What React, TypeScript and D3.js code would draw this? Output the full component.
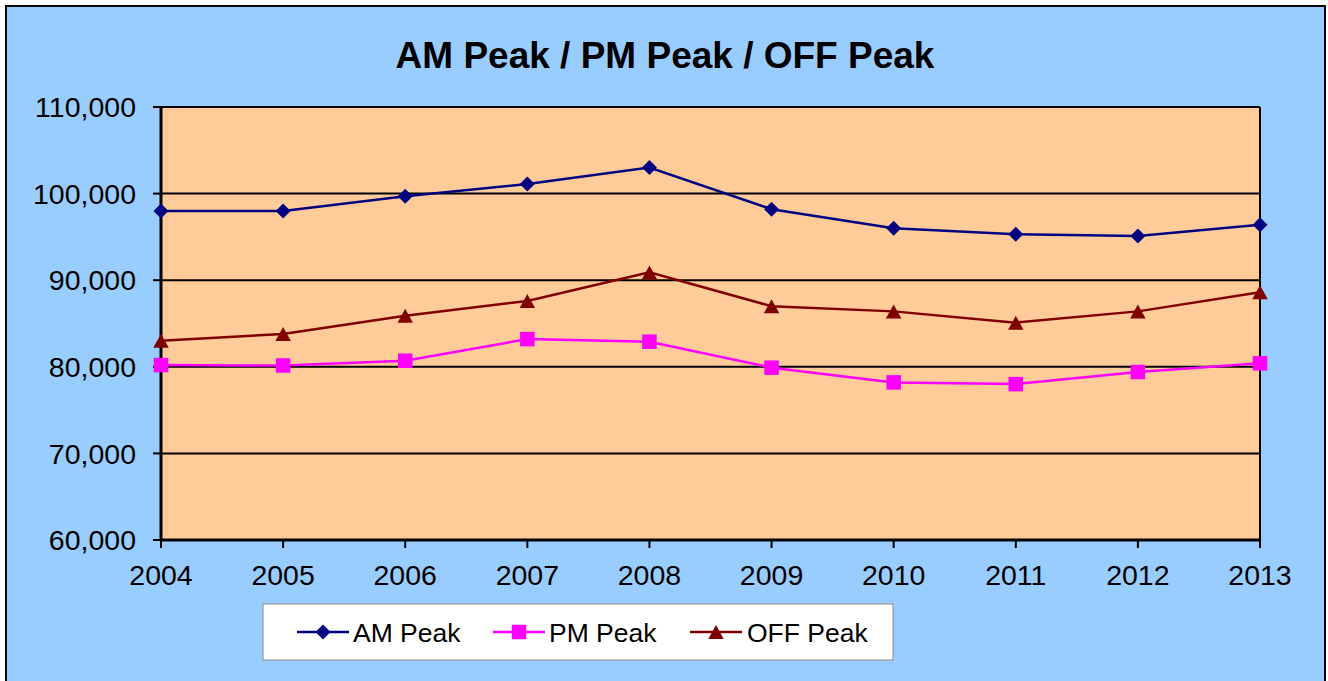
import React from "react";
import * as d3 from "d3";

const years = ["2004", "2005", "2006", "2007", "2008", "2009", "2010", "2011", "2012", "2013"];
const amPeak = [98000, 98000, 99700, 101100, 103000, 98200, 96000, 95300, 95100, 96400];
const pmPeak = [80200, 80150, 80700, 83200, 82900, 79900, 78200, 78000, 79400, 80400];
const offPeak = [83000, 83800, 85900, 87600, 90900, 87000, 86400, 85100, 86400, 88600];
const yTicks = [60000, 70000, 80000, 90000, 100000, 110000];
const seriesNames = ["AM Peak", "PM Peak", "OFF Peak"];

const W = 1328;
const H = 681;
const plot = { left: 161, right: 1260, top: 107, bottom: 540 };

const series = [
  { name: seriesNames[0], values: amPeak, color: "#000080", marker: "diamond" },
  { name: seriesNames[1], values: pmPeak, color: "#FF00FF", marker: "square" },
  { name: seriesNames[2], values: offPeak, color: "#800000", marker: "triangle" },
];

function Marker({ type, x, y, color }: { type: string; x: number; y: number; color: string }) {
  if (type === "diamond") {
    const r = 7.5;
    return <path d={`M${x},${y - r}L${x + r},${y}L${x},${y + r}L${x - r},${y}Z`} fill={color} />;
  }
  if (type === "square") {
    const s = 14.5;
    return <rect x={x - s / 2} y={y - s / 2} width={s} height={s} fill={color} />;
  }
  const h = 14;
  const w = 15.5;
  return <path d={`M${x},${y - h / 2}L${x + w / 2},${y + h / 2}L${x - w / 2},${y + h / 2}Z`} fill={color} />;
}

export default function App() {
  const x = d3.scalePoint<string>().domain(years).range([plot.left, plot.right]);
  const y = d3.scaleLinear().domain([60000, 110000]).range([plot.bottom, plot.top]);
  const fmt = d3.format(",");
  const line = d3
    .line<number>()
    .x((_, i) => x(years[i]) as number)
    .y((d) => y(d));

  const legendItems = [
    { lx: 297, tx: 353 },
    { lx: 493, tx: 549 },
    { lx: 690, tx: 747 },
  ];
  const legendY = 632;

  return (
    <svg
      width={W}
      height={H}
      style={{ position: "absolute", left: 0, top: 0, fontFamily: "Arial, 'Liberation Sans', sans-serif" }}
    >
      <rect x={0} y={0} width={W} height={H} fill="#FFFFFF" />
      <rect x={6} y={6} width={1319} height={700} fill="#99CCFF" stroke="#000" strokeWidth={2} />
      <text x={665} y={68} textAnchor="middle" fontSize={37} fontWeight="bold" fill="#000">
        AM Peak / PM Peak / OFF Peak
      </text>
      <rect
        x={plot.left}
        y={plot.top}
        width={plot.right - plot.left}
        height={plot.bottom - plot.top}
        fill="#FFCC99"
      />
      {yTicks.map((t) => (
        <g key={t}>
          <line x1={plot.left} x2={plot.right} y1={y(t)} y2={y(t)} stroke="#000" strokeWidth={2} />
          <line x1={plot.left - 8} x2={plot.left} y1={y(t)} y2={y(t)} stroke="#000" strokeWidth={2} />
          <text x={136} y={y(t)} dy="0.36em" textAnchor="end" fontSize={28.5} fill="#000">
            {fmt(t)}
          </text>
        </g>
      ))}
      <line x1={plot.right} x2={plot.right} y1={plot.top} y2={plot.bottom} stroke="#000" strokeWidth={2} />
      <line x1={plot.left} x2={plot.left} y1={plot.top - 1} y2={plot.bottom + 1} stroke="#000" strokeWidth={3} />
      <line x1={plot.left} x2={plot.right} y1={plot.bottom} y2={plot.bottom} stroke="#000" strokeWidth={3} />
      {years.map((yr) => (
        <g key={yr}>
          <line x1={x(yr)} x2={x(yr)} y1={plot.bottom} y2={plot.bottom + 8} stroke="#000" strokeWidth={2} />
          <text x={x(yr)} y={585} textAnchor="middle" fontSize={28.5} fill="#000">
            {yr}
          </text>
        </g>
      ))}
      {series.map((s) => (
        <g key={s.name}>
          <path d={line(s.values) || ""} fill="none" stroke={s.color} strokeWidth={2.5} />
          {s.values.map((v, i) => (
            <Marker key={i} type={s.marker} x={x(years[i]) as number} y={y(v)} color={s.color} />
          ))}
        </g>
      ))}
      <rect x={263} y={604} width={630} height={56} fill="#FFFFFF" stroke="#888" strokeWidth={1} />
      {series.map((s, i) => (
        <g key={s.name}>
          <line
            x1={legendItems[i].lx}
            x2={legendItems[i].lx + 52}
            y1={legendY}
            y2={legendY}
            stroke={s.color}
            strokeWidth={2.5}
          />
          <Marker type={s.marker} x={legendItems[i].lx + 26} y={legendY} color={s.color} />
          <text x={legendItems[i].tx} y={legendY} dy="0.36em" fontSize={26.5} fill="#000">
            {s.name}
          </text>
        </g>
      ))}
    </svg>
  );
}
